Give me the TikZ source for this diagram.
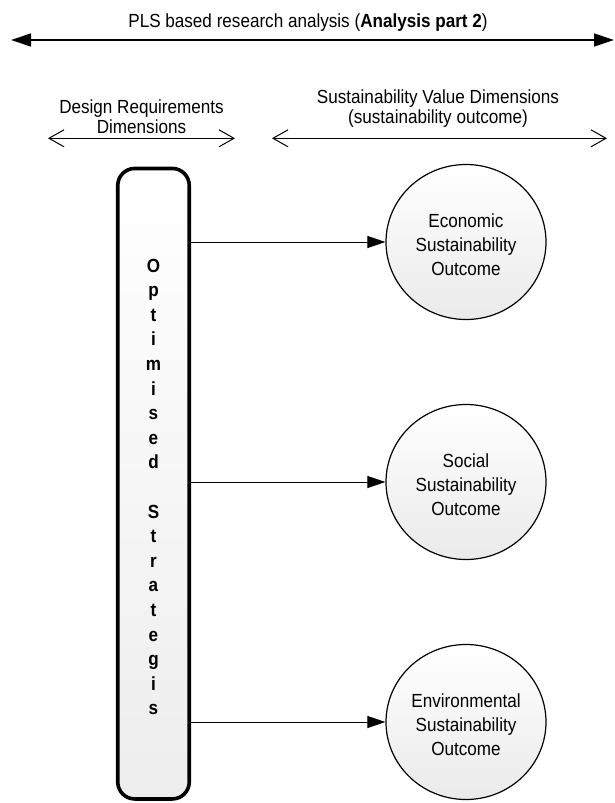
\documentclass[tikz,border=0pt]{standalone}
\usepackage{fontspec}
\setmainfont{Liberation Sans}[FakeStretch=0.9]
\usetikzlibrary{arrows.meta,shapes.geometric}

\definecolor{shadetop}{HTML}{FFFFFF}
\definecolor{shadebot}{HTML}{EAEAEA}

\tikzset{
  headtext/.style={font=\fontsize{19}{20}\selectfont, align=center, inner sep=0pt},
  spanarrow/.style={line width=1.3pt, {Triangle[length=20pt,width=13pt]}-{Triangle[length=20pt,width=13pt]}},
  scopearrow/.style={line width=1pt, {Straight Barb[length=15pt,width=17pt]}-{Straight Barb[length=15pt,width=17pt]}},
  stratbox/.style={draw, line width=3.6pt, rounded corners=17pt, top color=shadetop, bottom color=shadebot!85,
    minimum width=71.5pt, minimum height=630.5pt, inner sep=0pt},
  stratletters/.style={align=center, inner sep=0pt, font=\bfseries\fontsize{19}{24.6}\selectfont},
  outcome/.style={draw, line width=1.2pt, ellipse, top color=shadetop, bottom color=shadebot,
    minimum width=160pt, minimum height=155pt, inner sep=0pt},
  outcometext/.style={align=center, inner sep=0pt, font=\fontsize{19}{24}\selectfont},
  link/.style={line width=1pt, -{Triangle[length=18pt,width=12pt]}}
}

\begin{document}
\begin{tikzpicture}[x=1pt,y=-1pt]
  \useasboundingbox (0,0) rectangle (614,803);

  % overall scope of the analysis
  \node[headtext, anchor=base] (title) at (308,27.3)
    {PLS based research analysis (\textbf{Analysis part 2})};
  \coordinate (spanL) at (11,40);
  \coordinate (spanR) at (614,40);
  \draw[spanarrow] (spanL) -- (spanR);

  % the two groups of dimensions (anchored at the last line's baseline)
  \node[headtext, anchor=base] (designhead) at (141.5,133)
    {Design Requirements\\Dimensions};
  \coordinate (designL) at (48,138.3);
  \coordinate (designR) at (235,138.3);
  \draw[scopearrow] (designL) -- (designR);

  \node[headtext, anchor=base] (valuehead) at (438,123)
    {Sustainability Value Dimensions\\(sustainability outcome)};
  \coordinate (valueL) at (272,138.3);
  \coordinate (valueR) at (607,138.3);
  \draw[scopearrow] (valueL) -- (valueR);

  % vertical strategy bar
  \node[stratbox] (strat) at (153.5,483.7) {};
  \node[stratletters] (stratlabel) at (153.5,487)
    {O\\p\\t\\i\\m\\i\\s\\e\\d\\[24.6pt]S\\t\\r\\a\\t\\e\\g\\i\\s};

  % sustainability outcomes
  \node[outcome] (eco) at (466,242) {};
  \node[outcome] (soc) at (466,482) {};
  \node[outcome] (env) at (466,722) {};
  \node[outcometext] (ecolabel) at (466,245) {Economic\\Sustainability\\Outcome};
  \node[outcometext] (soclabel) at (466,485) {Social\\Sustainability\\Outcome};
  \node[outcometext] (envlabel) at (466,725) {Environmental\\Sustainability\\Outcome};

  \draw[link] (strat.east |- eco.west) -- (eco.west);
  \draw[link] (strat.east |- soc.west) -- (soc.west);
  \draw[link] (strat.east |- env.west) -- (env.west);
\end{tikzpicture}
\end{document}
